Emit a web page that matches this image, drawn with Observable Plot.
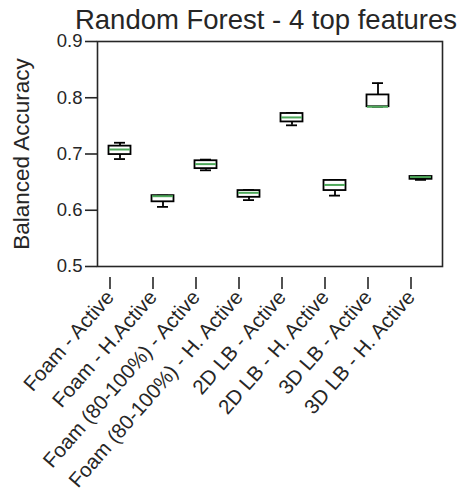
<!DOCTYPE html>
<html><head><meta charset="utf-8">
<script src="https://cdn.jsdelivr.net/npm/d3@7"></script>
<script src="https://cdn.jsdelivr.net/npm/@observablehq/plot@0.6"></script>
<style>body{margin:0;background:#fff;}</style>
</head><body><div id="chart"></div>
<script>
const categories = ["Foam - Active", "Foam - H.Active", "Foam (80-100%) - Active", "Foam (80-100%) - H. Active", "2D LB - Active", "2D LB - H. Active", "3D LB - Active", "3D LB - H. Active"];
const whiskerLow  = [0.691, 0.606, 0.671, 0.618, 0.751, 0.626, 0.784, 0.654];
const q1          = [0.699, 0.615, 0.674, 0.623, 0.757, 0.635, 0.784, 0.655];
const median      = [0.708, 0.625, 0.682, 0.631, 0.765, 0.645, 0.784, 0.659];
const q3          = [0.714, 0.626, 0.688, 0.635, 0.772, 0.653, 0.805, 0.660];
const whiskerHigh = [0.720, 0.626, 0.690, 0.636, 0.773, 0.654, 0.826, 0.660];
const yTicks = [0.5, 0.6, 0.7, 0.8, 0.9];
const title = "Random Forest - 4 top features";
const yLabel = "Balanced Accuracy";

const data = categories.map((c, i) => ({cat: c, lo: whiskerLow[i], q1: q1[i], med: median[i], q3: q3[i], hi: whiskerHigh[i]}));
const ink = "#262626";
const green = "#4ea85a";
const font = "'Liberation Sans', Arial, sans-serif";

const chart = Plot.plot({
  width: 470, height: 498,
  marginLeft: 97, marginRight: 28, marginTop: 41, marginBottom: 232,
  style: {fontFamily: font, fontSize: "18.5px", color: ink, background: "#fff", overflow: "visible"},
  x: {domain: categories, padding: 0, label: null},
  y: {domain: [0.5, 0.9], label: null},
  marks: [
    Plot.frame({stroke: ink, strokeWidth: 1.6}),
    Plot.axisY({ticks: yTicks, tickFormat: d3.format(".1f"), tickSize: 12, tickPadding: 3, fontSize: 18.5, strokeWidth: 1.6, stroke: ink, label: null}),
    Plot.axisX({tickSize: 12, tickRotate: -49, tickPadding: 4, dx: -10, dy: 11, fontSize: 20.5, strokeWidth: 1.6, stroke: ink, label: null}),
    Plot.text([yLabel], {frameAnchor: "left", rotate: -90, dx: -76, textAnchor: "middle", lineAnchor: "middle", fontSize: 22.5, fill: ink, fontFamily: font}),
    Plot.ruleX(data, {x: "cat", y1: "lo", y2: "q1", stroke: "black", strokeWidth: 1.8}),
    Plot.ruleX(data, {x: "cat", y1: "q3", y2: "hi", stroke: "black", strokeWidth: 1.8}),
    Plot.tickY(data, {x: "cat", y: "lo", inset: 16, stroke: "black", strokeWidth: 1.8}),
    Plot.tickY(data, {x: "cat", y: "hi", inset: 16, stroke: "black", strokeWidth: 1.8}),
    Plot.barY(data, {x: "cat", y1: "q1", y2: "q3", fill: "white", stroke: "black", strokeWidth: 1.8, insetLeft: 10.5, insetRight: 10.5}),
    Plot.tickY(data, {x: "cat", y: "med", inset: 11, stroke: green, strokeWidth: 2}),
    Plot.text([title], {frameAnchor: "top", lineAnchor: "middle", dy: -21, dx: -4, fontSize: 27.5, fill: ink, fontFamily: font})
  ]
});
document.getElementById("chart").append(chart);
</script>
</body></html>
